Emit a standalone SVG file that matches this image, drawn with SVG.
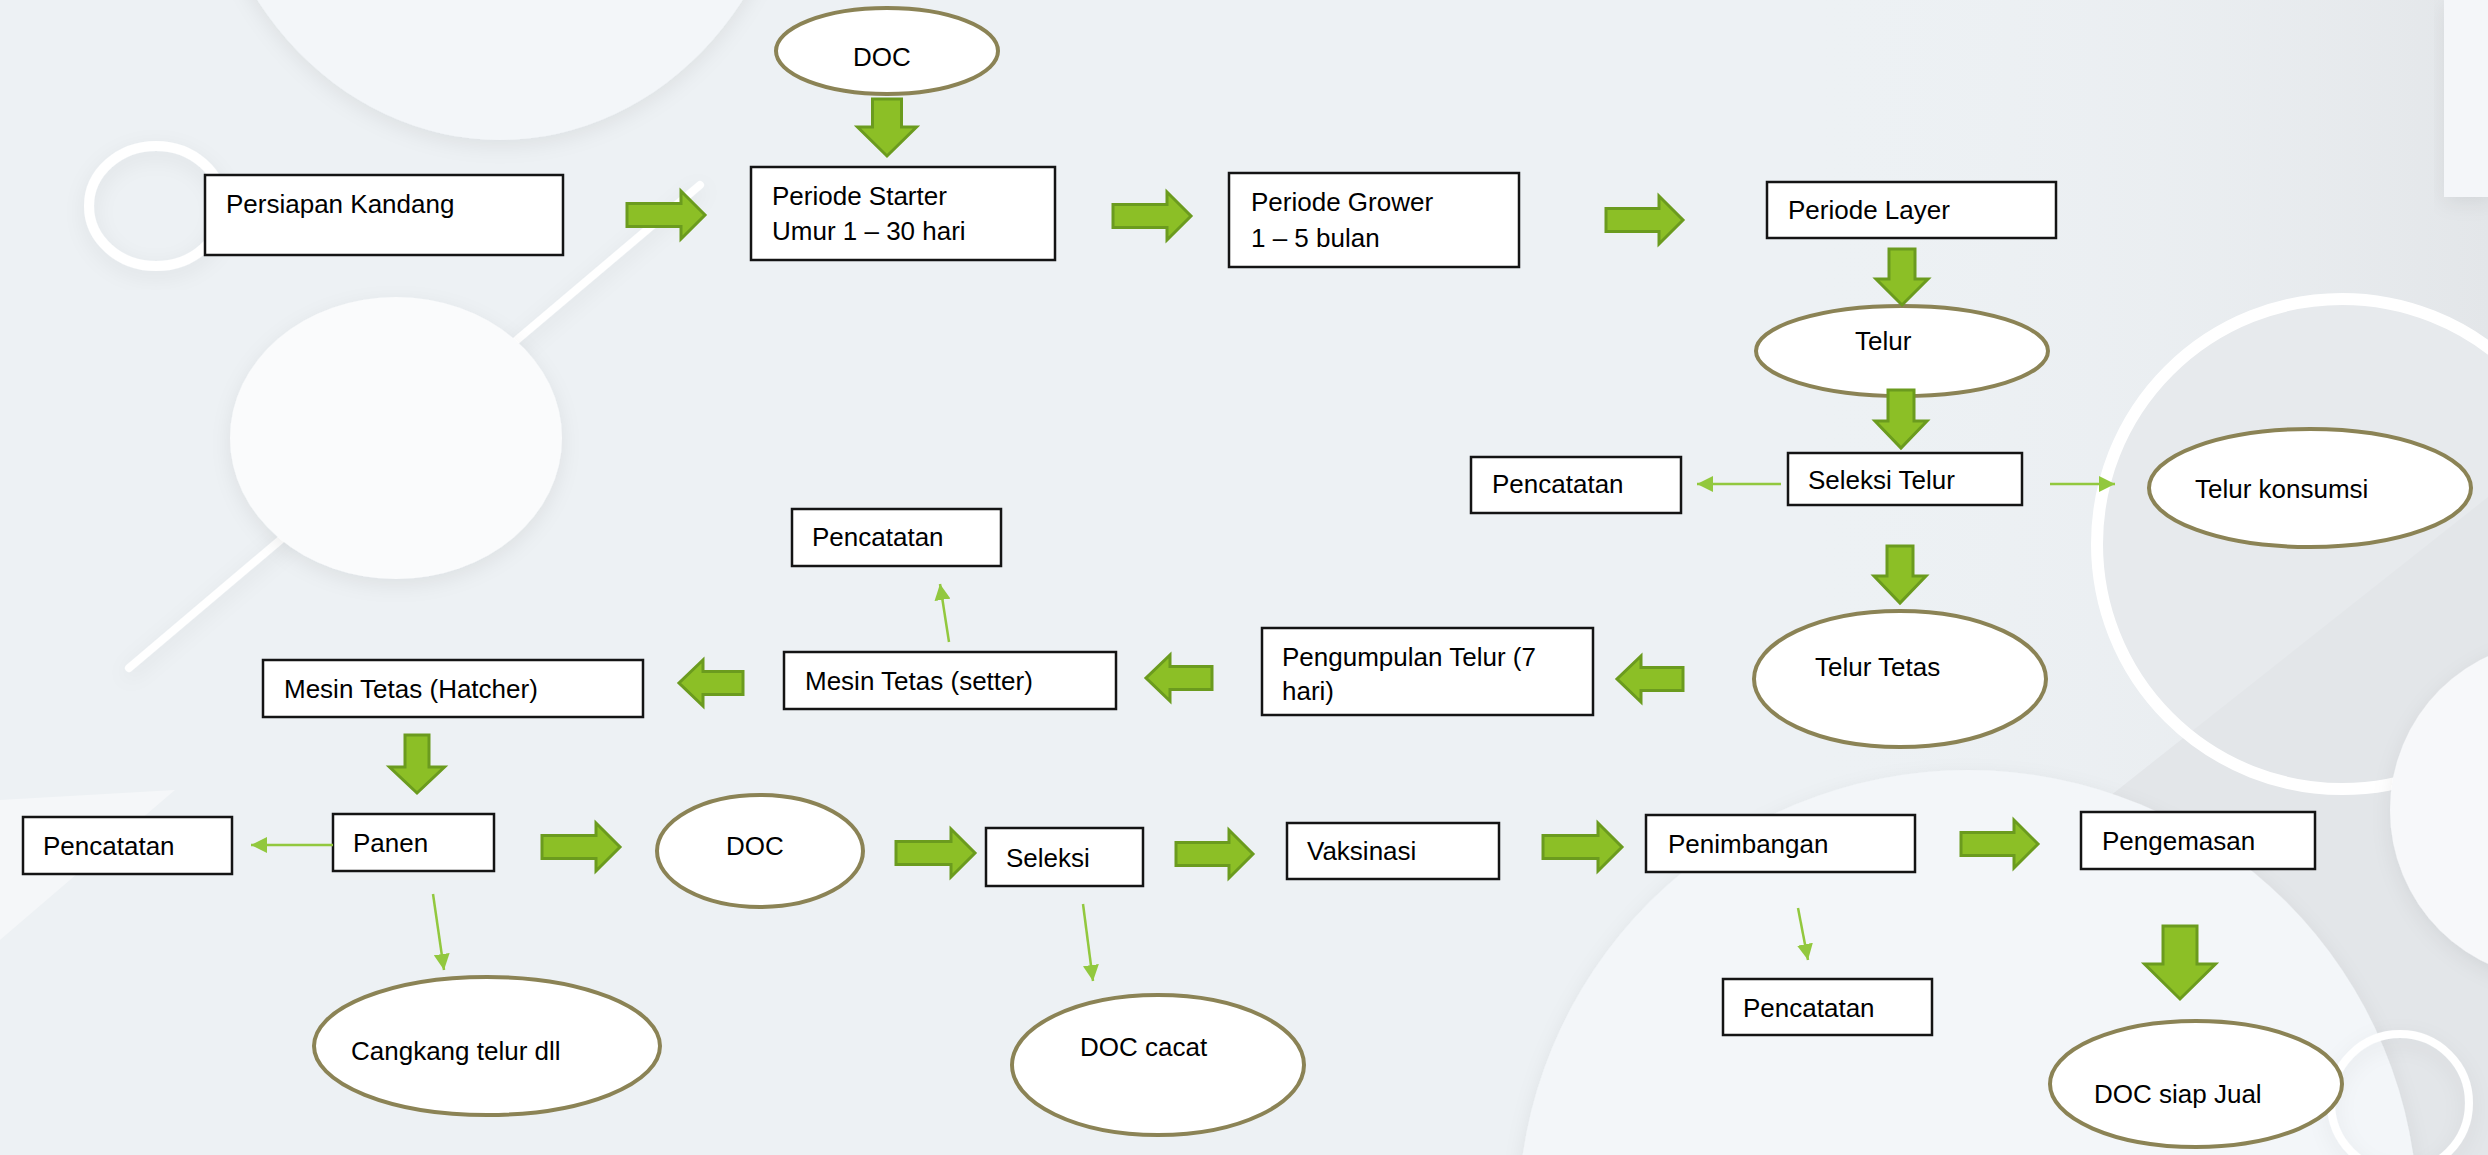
<svg xmlns="http://www.w3.org/2000/svg" width="2488" height="1155" viewBox="0 0 2488 1155">
<style>
.box{fill:#ffffff;stroke:#141414;stroke-width:2.5}
.ell{fill:#ffffff;stroke:#8b8355;stroke-width:4}
.blk{fill:#8cbf26;stroke:#6b9b1e;stroke-width:3;stroke-linejoin:miter}
.thin{fill:none;stroke:#92c83e;stroke-width:2.5;marker-end:url(#ah)}
.ring{fill:none;stroke:#ffffff}
text{font-family:"Liberation Sans",Arial,sans-serif;font-size:26px;fill:#000000}
</style>
<defs>
<marker id="ah" markerUnits="userSpaceOnUse" markerWidth="18" markerHeight="16" refX="16" refY="8" orient="auto">
<path d="M0,0 L16,8 L0,16 z" fill="#92c83e"/>
</marker>
<filter id="soft" x="-20%" y="-20%" width="140%" height="140%">
<feDropShadow dx="0" dy="6" stdDeviation="10" flood-color="#000000" flood-opacity="0.07"/>
</filter>
<linearGradient id="rg" x1="0" y1="0" x2="1" y2="0">
<stop offset="0" stop-color="#edf1f4" stop-opacity="0"/>
<stop offset="1" stop-color="#e3e6e9" stop-opacity="1"/>
</linearGradient>
</defs>

<g id="background">
<rect x="0" y="0" width="2488" height="1155" fill="#edf1f4"/>
<rect x="1800" y="0" width="688" height="1155" fill="url(#rg)"/>
<circle cx="2342" cy="544" r="245" fill="#e7eaed"/>
<polygon points="2488,497 1656,1155 2488,1155" fill="#e3e6e9"/>
<polygon points="0,800 175,790 0,940" fill="#f5f7f9"/>
<ellipse cx="500" cy="-200" rx="300" ry="340" fill="#f3f6f9" filter="url(#soft)"/>
<ellipse cx="156" cy="206" rx="67" ry="60" class="ring" stroke-width="10" filter="url(#soft)"/>
<line x1="129" y1="668" x2="700" y2="185" stroke="#ffffff" stroke-width="8" stroke-linecap="round" filter="url(#soft)"/>
<ellipse cx="396" cy="438" rx="166" ry="141" fill="#fafbfc" filter="url(#soft)"/>
<circle cx="1968" cy="1220" r="450" fill="#f3f6f9" filter="url(#soft)"/>
<circle cx="2342" cy="544" r="245" class="ring" stroke-width="12"/>
<circle cx="2560" cy="810" r="170" fill="#f7f8fa" filter="url(#soft)"/>
<circle cx="2400" cy="1103" r="69" class="ring" stroke-width="8" filter="url(#soft)"/>
<rect x="2444" y="0" width="50" height="197" fill="#f4f6f9" filter="url(#soft)"/>
</g>

<g id="nodes">
<g id="doc-top"><ellipse class="ell" cx="887" cy="51" rx="111" ry="43"/><text x="853" y="66">DOC</text></g>
<g id="persiapan"><rect class="box" x="205" y="175" width="358" height="80"/><text x="226" y="213">Persiapan Kandang</text></g>
<g id="starter"><rect class="box" x="751" y="167" width="304" height="93"/><text x="772" y="205">Periode Starter</text><text x="772" y="240">Umur 1 – 30 hari</text></g>
<g id="grower"><rect class="box" x="1229" y="173" width="290" height="94"/><text x="1251" y="211">Periode Grower</text><text x="1251" y="247">1 – 5 bulan</text></g>
<g id="layer"><rect class="box" x="1767" y="182" width="289" height="56"/><text x="1788" y="219">Periode Layer</text></g>
<g id="telur"><ellipse class="ell" cx="1902" cy="351" rx="146" ry="45"/><text x="1855" y="350">Telur</text></g>
<g id="seleksi-telur"><rect class="box" x="1788" y="453" width="234" height="52"/><text x="1808" y="489">Seleksi Telur</text></g>
<g id="pencatatan-1"><rect class="box" x="1471" y="457" width="210" height="56"/><text x="1492" y="493">Pencatatan</text></g>
<g id="telur-konsumsi"><ellipse class="ell" cx="2310" cy="488" rx="161" ry="59"/><text x="2195" y="498">Telur konsumsi</text></g>
<g id="telur-tetas"><ellipse class="ell" cx="1900" cy="679" rx="146" ry="68"/><text x="1815" y="676">Telur Tetas</text></g>
<g id="pengumpulan"><rect class="box" x="1262" y="628" width="331" height="87"/><text x="1282" y="666">Pengumpulan Telur (7</text><text x="1282" y="700">hari)</text></g>
<g id="setter"><rect class="box" x="784" y="652" width="332" height="57"/><text x="805" y="690">Mesin Tetas (setter)</text></g>
<g id="pencatatan-2"><rect class="box" x="792" y="509" width="209" height="57"/><text x="812" y="546">Pencatatan</text></g>
<g id="hatcher"><rect class="box" x="263" y="660" width="380" height="57"/><text x="284" y="698">Mesin Tetas (Hatcher)</text></g>
<g id="panen"><rect class="box" x="333" y="814" width="161" height="57"/><text x="353" y="852">Panen</text></g>
<g id="pencatatan-3"><rect class="box" x="23" y="817" width="209" height="57"/><text x="43" y="855">Pencatatan</text></g>
<g id="cangkang"><ellipse class="ell" cx="487" cy="1046" rx="173" ry="69"/><text x="351" y="1060">Cangkang telur dll</text></g>
<g id="doc-mid"><ellipse class="ell" cx="760" cy="851" rx="103" ry="56"/><text x="726" y="855">DOC</text></g>
<g id="seleksi"><rect class="box" x="986" y="828" width="157" height="58"/><text x="1006" y="867">Seleksi</text></g>
<g id="doc-cacat"><ellipse class="ell" cx="1158" cy="1065" rx="146" ry="70"/><text x="1080" y="1056">DOC cacat</text></g>
<g id="vaksinasi"><rect class="box" x="1287" y="823" width="212" height="56"/><text x="1307" y="860">Vaksinasi</text></g>
<g id="penimbangan"><rect class="box" x="1646" y="815" width="269" height="57"/><text x="1668" y="853">Penimbangan</text></g>
<g id="pencatatan-4"><rect class="box" x="1723" y="979" width="209" height="56"/><text x="1743" y="1017">Pencatatan</text></g>
<g id="pengemasan"><rect class="box" x="2081" y="812" width="234" height="57"/><text x="2102" y="850">Pengemasan</text></g>
<g id="doc-siap-jual"><ellipse class="ell" cx="2196" cy="1084" rx="146" ry="63"/><text x="2094" y="1103">DOC siap Jual</text></g>
</g>

<g id="connectors">
<polygon class="blk" points="872.5,99 901.5,99 901.5,127 916.5,127 887,156 857.5,127 872.5,127"/>
<polygon class="blk" points="627,203.5 681,203.5 681,191 705,215 681,239 681,226.5 627,226.5"/>
<polygon class="blk" points="1113,204.5 1167,204.5 1167,192 1191,216 1167,240 1167,227.5 1113,227.5"/>
<polygon class="blk" points="1606,208.5 1659,208.5 1659,196 1683,220 1659,244 1659,231.5 1606,231.5"/>
<polygon class="blk" points="1889,249 1915,249 1915,279 1928,279 1902,305 1876,279 1889,279"/>
<polygon class="blk" points="1888,390 1914,390 1914,421 1927,421 1901,448 1875,421 1888,421"/>
<polygon class="blk" points="1887,546 1913,546 1913,576 1926,576 1900,603 1874,576 1887,576"/>
<polygon class="blk" points="1683,667.5 1641,667.5 1641,656 1617,679 1641,702 1641,690.5 1683,690.5"/>
<polygon class="blk" points="1212,666.5 1170,666.5 1170,655 1146,678 1170,701 1170,689.5 1212,689.5"/>
<polygon class="blk" points="743,671.5 703,671.5 703,660 679,683 703,706 703,694.5 743,694.5"/>
<polygon class="blk" points="405,735 429,735 429,767 444.5,767 417,793 389.5,767 405,767"/>
<polygon class="blk" points="542,835.5 596,835.5 596,823 620,847 596,871 596,858.5 542,858.5"/>
<polygon class="blk" points="896,841.5 951,841.5 951,829 975,853 951,877 951,864.5 896,864.5"/>
<polygon class="blk" points="1176,842.5 1229,842.5 1229,830 1253,854 1229,878 1229,865.5 1176,865.5"/>
<polygon class="blk" points="1543,835.5 1598,835.5 1598,823 1622,847 1598,871 1598,858.5 1543,858.5"/>
<polygon class="blk" points="1961,832.5 2014,832.5 2014,820 2038,844 2014,868 2014,855.5 1961,855.5"/>
<polygon class="blk" points="2163,926 2197,926 2197,964 2215.5,964 2180,999 2144.5,964 2163,964"/>
<line class="thin" x1="1781" y1="484" x2="1697" y2="484"/>
<line class="thin" x1="2050" y1="484" x2="2115" y2="484"/>
<line class="thin" x1="949" y1="642" x2="940" y2="584"/>
<line class="thin" x1="333" y1="845" x2="251" y2="845"/>
<line class="thin" x1="433" y1="894" x2="444" y2="970"/>
<line class="thin" x1="1083" y1="904" x2="1093" y2="981"/>
<line class="thin" x1="1798" y1="908" x2="1808" y2="960"/>
</g>
</svg>
